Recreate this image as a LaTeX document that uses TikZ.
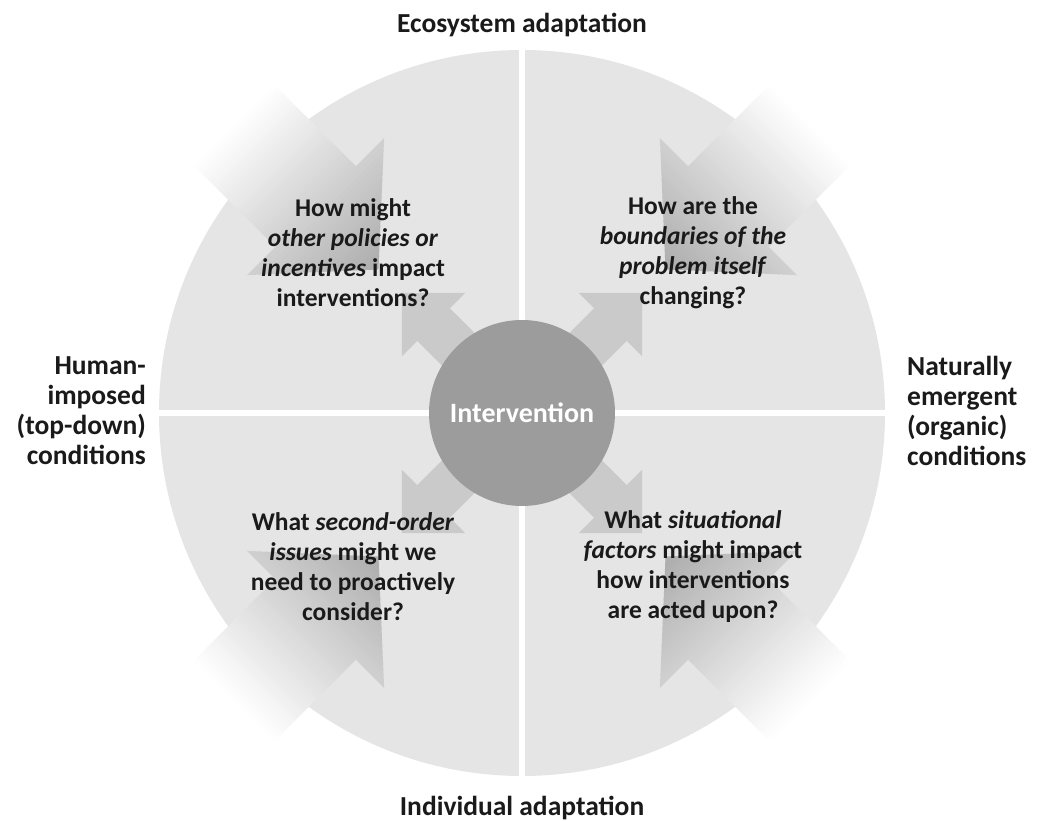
\documentclass[tikz,border=0pt]{standalone}
\usepackage{fontspec}
\setmainfont{Carlito}
\usepackage{tikz}
\definecolor{quad}{HTML}{E5E5E5}
\definecolor{core}{HTML}{9C9C9C}
\definecolor{spoke}{HTML}{CACACA}
\definecolor{inflow}{HTML}{ADADAD}
\definecolor{ink}{HTML}{1A1A1A}

% big arrow coming in from outside, drawn along +x then turned;
% filled in thin strips that fade out to white towards the tail
\newcommand{\inarrow}[1]{%
  \begin{scope}[transform canvas={rotate=#1}]
    \clip (203,0) -- (292,97) -- (292,57) -- (470,57)
      -- (470,-57) -- (292,-57) -- (292,-97) -- cycle;
    \foreach \x in {203,207,...,471} {
      \pgfmathsetmacro\fade{max(0,(405-\x)/2.02)}
      \fill[inflow!\fade!white] (\x,-100) rectangle ++(4.6,200);
    }
  \end{scope}}
% small arrow going out of the centre
\newcommand{\outarrow}[1]{%
  \fill[spoke, rotate=#1] (170,0) -- (125,45) -- (125,23) -- (60,23)
    -- (60,-23) -- (125,-23) -- (125,-45) -- cycle;}

\begin{document}
\begin{tikzpicture}[x=1pt,y=1pt]
      \tikzstyle{heading}=[font=\bfseries\fontsize{27.5}{30}\selectfont,
			   text=ink, inner sep=0pt]
      \tikzstyle{question}=[font=\bfseries\fontsize{25.5}{30}\selectfont,
			    text=ink, align=center, inner sep=0pt]
      \useasboundingbox (-522,-408) rectangle (522,413);

      \fill[quad] (0,0) circle (363);
      \inarrow{135} \inarrow{45} \inarrow{225} \inarrow{315}
      \draw[white, line width=6pt] (0,363) -- (0,-363) (-363,0) -- (363,0);
      \foreach \a in {45,135,225,315} {\outarrow{\a}}

      \node (core) [circle, fill=core, minimum size=186pt, inner sep=0pt,
		    text=white, font=\bfseries\fontsize{28}{30}\selectfont]
	  at (0,0) {Intervention};

      \node (ecosystem) [heading, anchor=base] at (0,380) {Ecosystem adaptation};
      \node (individual) [heading, anchor=base] at (0,-402) {Individual adaptation};
      \node (human) [heading, align=right, anchor=east] at (-376,2)
	  {Human-\\imposed\\(top-down)\\conditions};
      \node (natural) [heading, align=left, anchor=west] at (385,2)
	  {Naturally\\emergent\\(organic)\\conditions};

      \node (policies) [question] at (-169,160)
	  {How might\\\textit{other policies or}\\\textit{incentives} impact\\interventions?};
      \node (boundaries) [question] at (171,160)
	  {How are the\\\textit{boundaries of the}\\\textit{problem itself}\\changing?};
      \node (secondorder) [question] at (-169,-154)
	  {What \textit{second-order}\\\textit{issues} might we\\need to proactively\\consider?};
      \node (situational) [question] at (171,-154)
	  {What \textit{situational}\\\textit{factors} might impact\\how interventions\\are acted upon?};
\end{tikzpicture}
\end{document}
